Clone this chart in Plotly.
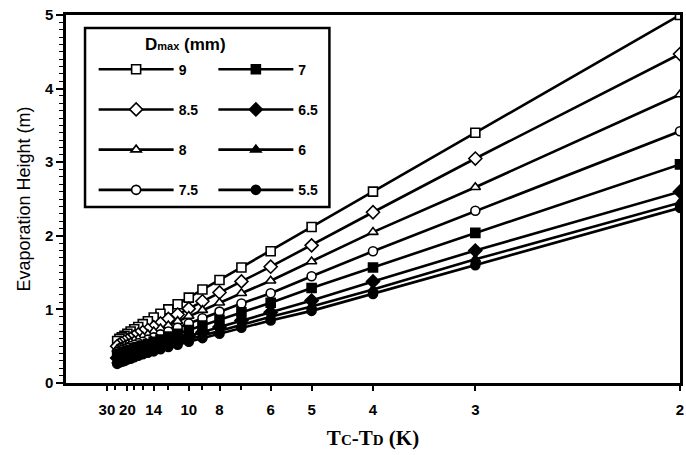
import plotly.graph_objects as go

# Tc - Td (K)
dT = [2, 3, 4, 5, 6, 7, 8, 9, 10, 11, 12, 13, 14, 15, 16, 17, 18, 19, 20, 21, 22, 23, 24]

h_9_0 = [5.00, 3.40, 2.60, 2.12, 1.79, 1.57, 1.40, 1.27, 1.16, 1.07, 1.00, 0.94, 0.89, 0.84, 0.80, 0.76, 0.73, 0.70, 0.67, 0.64, 0.62, 0.60, 0.57]
h_8_5 = [4.47, 3.05, 2.32, 1.87, 1.58, 1.38, 1.23, 1.11, 1.01, 0.93, 0.87, 0.81, 0.76, 0.72, 0.69, 0.66, 0.63, 0.60, 0.58, 0.56, 0.54, 0.52, 0.50]
h_8_0 = [3.92, 2.66, 2.05, 1.65, 1.39, 1.22, 1.09, 0.99, 0.91, 0.84, 0.78, 0.74, 0.70, 0.66, 0.63, 0.60, 0.58, 0.55, 0.53, 0.51, 0.49, 0.48, 0.46]
h_7_5 = [3.42, 2.34, 1.79, 1.45, 1.22, 1.08, 0.97, 0.88, 0.81, 0.75, 0.70, 0.66, 0.62, 0.59, 0.56, 0.54, 0.52, 0.50, 0.48, 0.46, 0.45, 0.43, 0.42]
h_7_0 = [2.97, 2.04, 1.57, 1.29, 1.09, 0.96, 0.86, 0.78, 0.72, 0.67, 0.63, 0.59, 0.56, 0.53, 0.51, 0.49, 0.47, 0.45, 0.43, 0.42, 0.40, 0.39, 0.38]
h_6_5 = [2.60, 1.80, 1.38, 1.12, 0.96, 0.85, 0.76, 0.69, 0.64, 0.59, 0.56, 0.53, 0.50, 0.48, 0.46, 0.44, 0.42, 0.40, 0.39, 0.37, 0.36, 0.35, 0.34]
h_6_0 = [2.45, 1.68, 1.27, 1.04, 0.90, 0.79, 0.71, 0.65, 0.60, 0.56, 0.52, 0.49, 0.47, 0.44, 0.42, 0.40, 0.38, 0.37, 0.35, 0.34, 0.33, 0.32, 0.30]
h_5_5 = [2.38, 1.60, 1.21, 0.98, 0.85, 0.75, 0.67, 0.61, 0.56, 0.52, 0.49, 0.46, 0.43, 0.41, 0.39, 0.37, 0.35, 0.33, 0.32, 0.30, 0.29, 0.28, 0.26]

x_tick_labels = [30, 20, 14, 10, 8, 6, 5, 4, 3, 2]
x_minor_ticks = [25, 18, 16, 12, 9, 7]
y_ticks = [0, 1, 2, 3, 4, 5]

series = [
    ("9", h_9_0, "square", "white", "legend"),
    ("8.5", h_8_5, "diamond", "white", "legend"),
    ("8", h_8_0, "triangle-up", "white", "legend"),
    ("7.5", h_7_5, "circle", "white", "legend"),
    ("7", h_7_0, "square", "black", "legend2"),
    ("6.5", h_6_5, "diamond", "black", "legend2"),
    ("6", h_6_0, "triangle-up", "black", "legend2"),
    ("5.5", h_5_5, "circle", "black", "legend2"),
]

inv = [1.0 / v for v in dT]

fig = go.Figure()
for i, (name, ys, sym, fill, leg) in enumerate(series):
    fig.add_trace(go.Scatter(
        x=inv, y=ys, mode="lines+markers", name=name,
        legend=leg, legendgroup="g" + str(i),
        line=dict(color="black", width=2.6),
        marker=dict(symbol=sym, size=9 if sym != "diamond" else 10, color=fill,
                    line=dict(color="black", width=1.6)),
    ))

tickfont = dict(family="Liberation Sans, Arial", size=15, color="black", weight="bold")

fig.update_layout(
    width=686, height=455,
    margin=dict(l=66, r=3, t=15, b=72),
    paper_bgcolor="white", plot_bgcolor="white",
    showlegend=True,
    xaxis=dict(
        range=[0, 0.5],
        tickmode="array",
        tickvals=[1.0 / v for v in x_tick_labels],
        ticktext=[str(v) for v in x_tick_labels],
        ticks="outside", ticklen=5, tickwidth=2, tickcolor="black",
        ticklabelstandoff=6,
        minor=dict(tickmode="array", tickvals=[1.0 / v for v in x_minor_ticks],
                   ticks="outside", ticklen=4, tickwidth=2, tickcolor="black"),
        showline=True, linecolor="black", linewidth=2.5, mirror=True,
        showgrid=False, zeroline=False,
        tickfont=tickfont,
        title=dict(text="T<span style='font-size:15px'>C</span>-T<span style='font-size:15px'>D</span> (K)",
                   font=dict(family="Liberation Serif, Times New Roman", size=21, color="black", weight="bold"),
                   standoff=14),
    ),
    yaxis=dict(
        range=[0, 5],
        tickmode="array", tickvals=y_ticks,
        ticks="outside", ticklen=7, tickwidth=2, tickcolor="black",
        minor=dict(dtick=0.1, ticks="outside", ticklen=4, tickwidth=1.2, tickcolor="black"),
        showline=True, linecolor="black", linewidth=2.5, mirror=True,
        showgrid=False, zeroline=False,
        tickfont=tickfont,
        title=dict(text="Evaporation Height (m)",
                   font=dict(family="Liberation Sans, Arial", size=18, color="black"),
                   standoff=10),
    ),
    legend=dict(x=0.045, y=0.895, xanchor="left", yanchor="top",
                bgcolor="rgba(0,0,0,0)", borderwidth=0, itemwidth=75,
                tracegroupgap=19, font=dict(family="Liberation Sans, Arial", size=14, color="black", weight="bold")),
    legend2=dict(x=0.24, y=0.895, xanchor="left", yanchor="top",
                 bgcolor="rgba(0,0,0,0)", borderwidth=0, itemwidth=75,
                 tracegroupgap=19, font=dict(family="Liberation Sans, Arial", size=14, color="black", weight="bold")),
    shapes=[dict(type="rect", xref="paper", yref="paper", x0=0.031, x1=0.429, y0=0.478, y1=0.965,
                 line=dict(color="black", width=2.5), fillcolor="rgba(0,0,0,0)")],
    annotations=[dict(text="D<span style='font-size:11px'>max</span> (mm)", xref="paper", yref="paper",
                      x=0.195, y=0.92, xanchor="center", yanchor="middle", showarrow=False,
                      font=dict(family="Liberation Sans, Arial", size=17, color="black", weight="bold"))],
)

fig.write_html("out.html")
